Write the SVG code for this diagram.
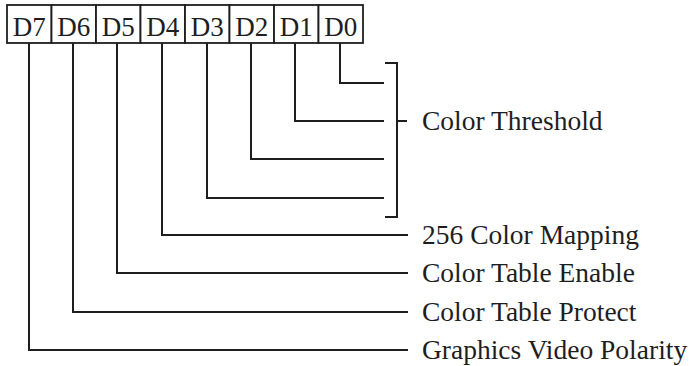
<svg xmlns="http://www.w3.org/2000/svg" width="689" height="366" viewBox="0 0 689 366">
<style>
.box{fill:#fff;stroke:#1e1e1e;stroke-width:1.8}
.bit{font-family:"Liberation Serif","Times New Roman",serif;font-size:27px;fill:#1e1e1e;text-anchor:middle}
.lbl{font-family:"Liberation Serif","Times New Roman",serif;font-size:27.5px;fill:#1e1e1e}
.ln{fill:none;stroke:#1e1e1e;stroke-width:2}
</style>
<rect width="689" height="366" fill="#fff"/>
<g id="register">
<g id="D7"><rect class="box" x="7" y="5" width="44.5" height="38"/><text class="bit" x="29.3" y="36">D7</text></g>
<g id="D6"><rect class="box" x="51.5" y="5" width="44.5" height="38"/><text class="bit" x="73.8" y="36">D6</text></g>
<g id="D5"><rect class="box" x="96" y="5" width="44.5" height="38"/><text class="bit" x="118.3" y="36">D5</text></g>
<g id="D4"><rect class="box" x="140.5" y="5" width="44.5" height="38"/><text class="bit" x="162.8" y="36">D4</text></g>
<g id="D3"><rect class="box" x="185" y="5" width="44.5" height="38"/><text class="bit" x="207.3" y="36">D3</text></g>
<g id="D2"><rect class="box" x="229.5" y="5" width="44.5" height="38"/><text class="bit" x="251.8" y="36">D2</text></g>
<g id="D1"><rect class="box" x="274" y="5" width="44.5" height="38"/><text class="bit" x="296.3" y="36">D1</text></g>
<g id="D0"><rect class="box" x="318.5" y="5" width="44.5" height="38"/><text class="bit" x="340.8" y="36">D0</text></g>
</g>
<g id="connectors">
<path class="ln" d="M340,43 V83 H384"/>
<path class="ln" d="M295,43 V121 H384"/>
<path class="ln" d="M251,43 V159 H384"/>
<path class="ln" d="M207,43 V198 H384"/>
<path class="ln" d="M385,63 H397 V217 H385"/>
<path class="ln" d="M397,121 H407"/>
<path class="ln" d="M162,43 V235 H408"/>
<path class="ln" d="M117,43 V273 H408"/>
<path class="ln" d="M73,43 V312 H408"/>
<path class="ln" d="M29,43 V350 H408"/>
</g>
<g id="threshold"><text class="lbl" x="422" y="130">Color Threshold</text></g>
<g id="mapping"><text class="lbl" x="422" y="244">256 Color Mapping</text></g>
<g id="enable"><text class="lbl" x="422" y="282">Color Table Enable</text></g>
<g id="protect"><text class="lbl" x="422" y="321">Color Table Protect</text></g>
<g id="polarity"><text class="lbl" x="422" y="359">Graphics Video Polarity</text></g>
</svg>
